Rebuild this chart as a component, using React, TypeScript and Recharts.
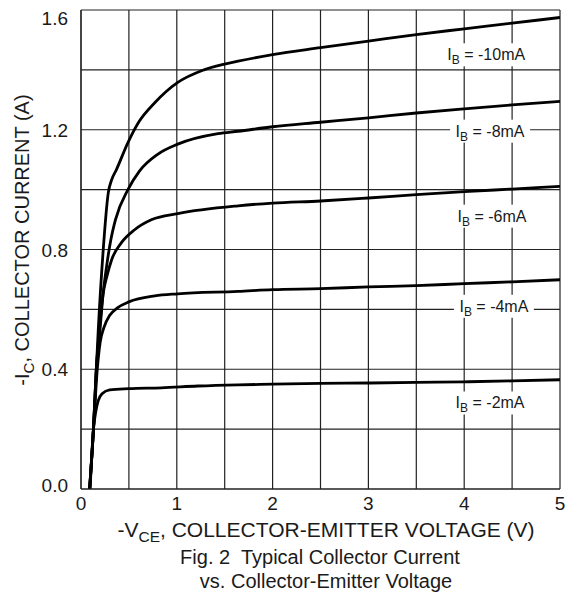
import { CartesianGrid, Label, Line, LineChart, ReferenceDot, XAxis, YAxis } from "recharts"

// -VCE (V) / -IC (A) readings for each base current curve
const vce10 = [0.09, 0.13, 0.16, 0.18, 0.23, 0.285, 0.32, 0.37, 0.49, 0.6, 0.77, 1.01, 1.29, 1.64, 2.0, 2.5, 3.0, 3.5, 4.0, 4.5, 5.0]
const ic10 = [0, 0.2, 0.4, 0.53, 0.79, 0.99, 1.033, 1.067, 1.157, 1.224, 1.29, 1.358, 1.401, 1.429, 1.451, 1.474, 1.496, 1.518, 1.537, 1.556, 1.575]

const vce8 = [0.09, 0.13, 0.16, 0.198, 0.23, 0.27, 0.31, 0.36, 0.49, 0.61, 0.8, 1.01, 1.43, 1.64, 2.0, 2.5, 3.0, 3.5, 4.0, 4.5, 5.0]
const ic8 = [0, 0.2, 0.4, 0.53, 0.65, 0.75, 0.83, 0.9, 1.0, 1.062, 1.118, 1.152, 1.187, 1.195, 1.21, 1.225, 1.24, 1.256, 1.27, 1.283, 1.295]

const vce6 = [0.09, 0.13, 0.16, 0.2, 0.23, 0.27, 0.32, 0.42, 0.56, 0.74, 1.01, 1.64, 2.0, 2.5, 3.0, 3.5, 4.0, 4.5, 5.0]
const ic6 = [0, 0.2, 0.4, 0.56, 0.65, 0.71, 0.766, 0.822, 0.866, 0.9, 0.92, 0.946, 0.955, 0.962, 0.972, 0.983, 0.993, 1.002, 1.011]

const vce4 = [0.09, 0.13, 0.17, 0.2, 0.24, 0.3, 0.38, 0.5, 0.77, 1.01, 1.64, 2.0, 2.5, 3.0, 3.5, 4.0, 4.5, 5.0]
const ic4 = [0, 0.2, 0.4, 0.49, 0.54, 0.58, 0.605, 0.625, 0.645, 0.652, 0.66, 0.666, 0.669, 0.675, 0.679, 0.686, 0.692, 0.699]

const vce2 = [0.095, 0.13, 0.155, 0.18, 0.22, 0.3, 0.5, 0.84, 1.22, 1.64, 2.0, 2.5, 3.0, 3.5, 4.0, 4.5, 5.0]
const ic2 = [0, 0.2, 0.26, 0.295, 0.318, 0.331, 0.335, 0.338, 0.344, 0.348, 0.35, 0.353, 0.354, 0.356, 0.358, 0.361, 0.365]

const curveNames = ["-10mA", "-8mA", "-6mA", "-4mA", "-2mA"]

const xTicks = [0, 0.5, 1, 1.5, 2, 2.5, 3, 3.5, 4, 4.5, 5]
const yTicks = [0, 0.2, 0.4, 0.6, 0.8, 1.0, 1.2, 1.4, 1.6]

const zip = (v: number[], i: number[]) => v.map((x, k) => ({ v: x, i: i[k] }))

const curves = [
  zip(vce10, ic10),
  zip(vce8, ic8),
  zip(vce6, ic6),
  zip(vce4, ic4),
  zip(vce2, ic2),
]

// where each IB label sits (data units)
const labelSpots = [
  { v: 4.23, i: 1.452 },
  { v: 4.27, i: 1.197 },
  { v: 4.29, i: 0.913 },
  { v: 4.31, i: 0.612 },
  { v: 4.27, i: 0.289 },
]

const FONT = "'Liberation Sans', Arial, sans-serif"
const INK = "#1a1a1a"

function CurveLabel(props: any) {
  const { cx, cy, name } = props
  return (
    <g>
      <rect x={cx - 40} y={cy - 11} width={80} height={23} fill="#fff" />
      <text x={cx} y={cy + 6} textAnchor="middle" fontFamily={FONT} fontSize={16} fill={INK}>
        I
        <tspan fontSize={12} dy={4}>B</tspan>
        <tspan dy={-4}>{` = ${name}`}</tspan>
      </text>
    </g>
  )
}

function YTick(props: any) {
  const { x, y, payload } = props
  const val = payload.value as number
  if (Math.round(val * 10) % 4 !== 0) return null
  let dy = 0
  if (val >= 1.6) dy = 8
  if (val === 0) dy = -4
  return (
    <text x={x - 5} y={y + dy + 7} textAnchor="end" fontFamily={FONT} fontSize={19} fill={INK}>
      {val.toFixed(1)}
    </text>
  )
}

function XTick(props: any) {
  const { x, y, payload } = props
  const val = payload.value as number
  if (!Number.isInteger(val)) return null
  return (
    <text x={x} y={y + 13} textAnchor="middle" fontFamily={FONT} fontSize={19} fill={INK}>
      {val}
    </text>
  )
}

function XTitle() {
  return (
    <g fontFamily={FONT} fill={INK}>
      <text x={326} y={537} textAnchor="middle" fontSize={21}>
        -V
        <tspan fontSize={15.5} dy={5}>CE</tspan>
        <tspan dy={-5}>, COLLECTOR-EMITTER VOLTAGE (V)</tspan>
      </text>
      <text x={320} y={564} textAnchor="middle" fontSize={20}>
        Fig. 2{"\u00a0 "}Typical Collector Current
      </text>
      <text x={326} y={588} textAnchor="middle" fontSize={20}>
        vs. Collector-Emitter Voltage
      </text>
    </g>
  )
}

function YTitle() {
  const cx = 22
  const cy = 240
  return (
    <text
      x={cx}
      y={cy + 7}
      transform={`rotate(-90, ${cx}, ${cy})`}
      textAnchor="middle"
      fontFamily={FONT}
      fontSize={20}
      fill={INK}
    >
      -I
      <tspan fontSize={15} dy={5}>C</tspan>
      <tspan dy={-5}>, COLLECTOR CURRENT (A)</tspan>
    </text>
  )
}

export default function App() {
  return (
    <div style={{ position: "absolute", left: 0, top: 0, background: "#fff" }}>
      <LineChart width={568} height={595} margin={{ top: 10, right: 8, bottom: 0, left: 0 }}>
        <CartesianGrid stroke="#222" strokeWidth={1.2} />
        <XAxis
          type="number"
          dataKey="v"
          domain={[0, 5]}
          ticks={xTicks}
          tick={<XTick />}
          tickLine={false}
          axisLine={{ stroke: "#222", strokeWidth: 1.2 }}
          height={106}
          allowDataOverflow
        >
          <Label content={<XTitle />} />
        </XAxis>
        <YAxis
          type="number"
          dataKey="i"
          domain={[0, 1.6]}
          ticks={yTicks}
          tick={<YTick />}
          tickLine={false}
          axisLine={{ stroke: "#222", strokeWidth: 1.2 }}
          width={81}
          allowDataOverflow
        >
          <Label content={<YTitle />} />
        </YAxis>
        {curves.map((d, k) => (
          <Line
            key={curveNames[k]}
            data={d}
            dataKey="i"
            type="monotone"
            stroke="#000"
            strokeWidth={2.8}
            dot={false}
            isAnimationActive={false}
          />
        ))}
        {labelSpots.map((s, k) => (
          <ReferenceDot
            key={`lbl-${k}`}
            x={s.v}
            y={s.i}
            r={0}
            shape={(p: any) => <CurveLabel {...p} name={curveNames[k]} />}
          />
        ))}
      </LineChart>
    </div>
  )
}
